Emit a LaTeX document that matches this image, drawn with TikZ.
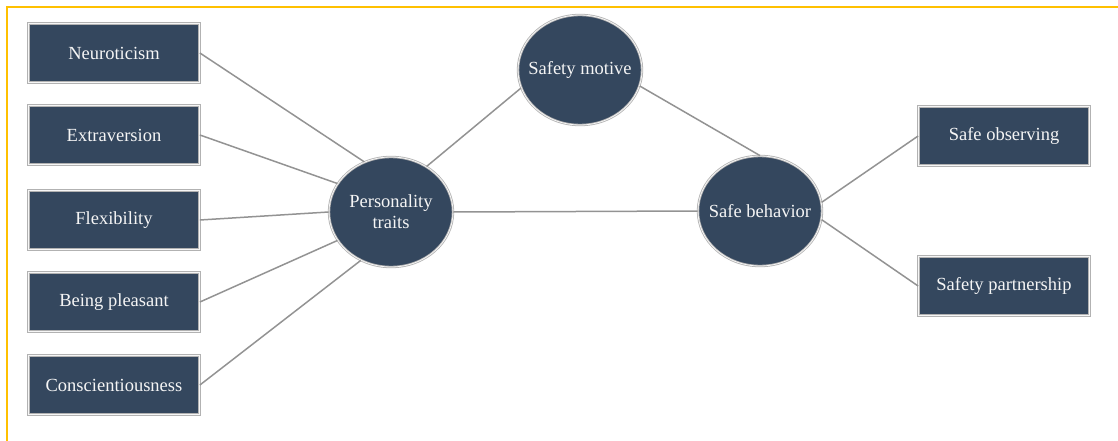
\documentclass[tikz,border=0pt]{standalone}
\usepackage{fontspec}
\setmainfont{Liberation Serif}
\usetikzlibrary{shapes.geometric}
\definecolor{navy}{RGB}{52,71,94}
\definecolor{frameyellow}{RGB}{255,192,0}
\tikzset{every node/.style={text=white!92!gray, font=\fontsize{18.5}{21}\selectfont},
	trait/.style={rectangle, fill=navy, draw=gray!60, double=white!93!gray,
		double distance=0.8pt, line width=0.8pt, minimum width=171pt, minimum height=59pt},
	factor/.style={ellipse, fill=navy, draw=gray!60, double=white!93!gray,
		double distance=0.8pt, line width=0.8pt, minimum width=124pt, minimum height=110pt,
		align=center, inner sep=-9pt},
	link/.style={draw=gray!85, line width=1.5pt}}

\begin{document}
\begin{tikzpicture}[x=1pt,y=-1pt]
	\useasboundingbox (0,0) rectangle (1118,441);
	\draw[frameyellow, line width=2.5pt] (7,441) -- (7,7) -- (1118,7);
	% personality dimensions
	\node[trait] (neu) at (114,53) {Neuroticism};
	\node[trait] (ext) at (114,135) {Extraversion};
	\node[trait] (fle) at (114,220) {Flexibility};
	\node[trait] (ple) at (114,302) {Being pleasant};
	\node[trait] (con) at (114,385) {Conscientiousness};
	% latent variables
	\node[factor] (pers) at (391,212) {Personality\\traits};
	\node[factor] (mot) at (580,70) {Safety motive};
	\node[factor] (beh) at (760,211) {Safe behavior};
	% outcomes
	\node[trait] (obs) at (1004,136) {Safe observing};
	\node[trait] (part) at (1004,286) {Safety partnership};
	
	\foreach \src/\ang in {neu/118,ext/152,fle/180,ple/208,con/238}
		\draw[link] (\src.east) -- (pers.\ang);
	\draw[link] (pers.52) -- (mot.197);
	\draw[link] (pers.east) -- (beh.west);
	\draw[link] (mot.-15) -- (beh.north);
	\draw[link] (beh.8) -- (obs.west);
	\draw[link] (beh.-8) -- (part.west);
\end{tikzpicture}
\end{document}
